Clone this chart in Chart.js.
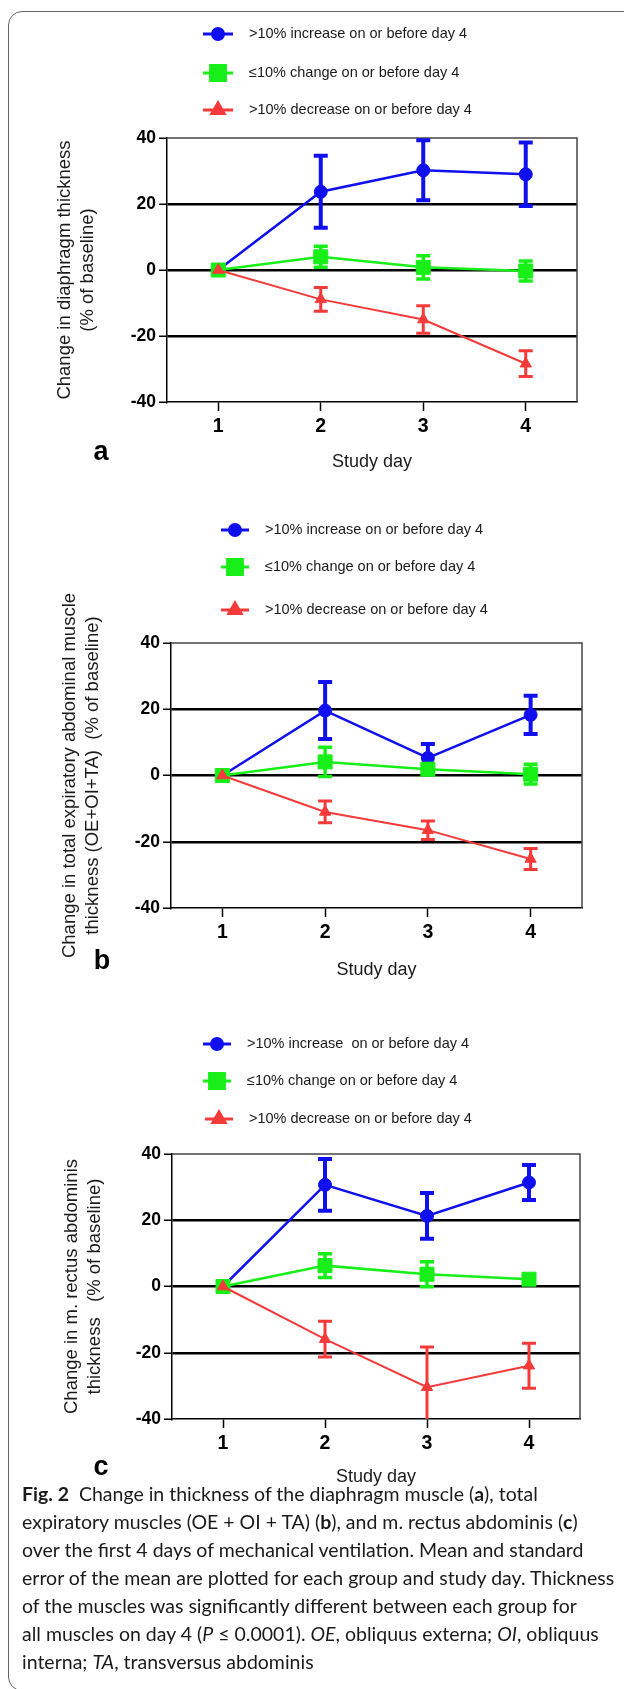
<!DOCTYPE html>
<html><head><meta charset="utf-8">
<script src="https://cdn.jsdelivr.net/npm/chart.js@4.4.0/dist/chart.umd.min.js"></script>
<style>
html,body{margin:0;padding:0;background:#fff;}
body{width:624px;height:1689px;position:relative;overflow:hidden;}
#frame{position:absolute;left:8px;top:11px;width:640px;height:1680px;border:1.5px solid #666;border-radius:14px;box-sizing:border-box;}
canvas{position:absolute;left:0;}
#caption{position:absolute;left:22px;top:1480px;font-family:Lato,"Open Sans",sans-serif;font-size:19.5px;line-height:28px;color:#1a1a1a;white-space:nowrap;}
</style></head>
<body>
<div id="frame"></div>
<canvas id="ca" width="624" height="480" style="top:0"></canvas>
<canvas id="cb" width="624" height="510" style="top:480px"></canvas>
<canvas id="cc" width="624" height="500" style="top:990px"></canvas>
<div id="caption"><b>Fig. 2</b>&nbsp; Change in thickness of the diaphragm muscle (<b>a</b>), total<br>expiratory muscles (OE + OI + TA) (<b>b</b>), and m. rectus abdominis (<b>c</b>)<br>over the first 4 days of mechanical ventilation. Mean and standard<br>error of the mean are plotted for each group and study day. Thickness<br>of the muscles was significantly different between each group for<br>all muscles on day 4 (<i>P</i> ≤ 0.0001). <i>OE</i>, obliquus externa; <i>OI</i>, obliquus<br>interna; <i>TA</i>, transversus abdominis</div>
<script>
// ---- data ----
const days = ['1', '2', '3', '4'];
const yTicks = [-40, -20, 0, 20, 40];
const groupLabels = ['>10% increase on or before day 4', '\u226410% change on or before day 4', '>10% decrease on or before day 4'];
const groupLabelsC = ['>10% increase  on or before day 4', '\u226410% change on or before day 4', '>10% decrease on or before day 4'];
const yTitleA = ['Change in diaphragm thickness', '(% of baseline)'];
const yTitleB = ['Change in total expiratory abdominal muscle', 'thickness (OE+OI+TA)  (% of baseline)'];
const yTitleC = ['Change in m. rectus abdominis', 'thickness   (% of baseline)'];
const xTitle = 'Study day';

// Panel a: diaphragm
const diaIncrease = [0, 23.7, 30.2, 29.0];
const diaIncreaseSem = [0, 10.9, 9.1, 9.6];
const diaStable = [0, 4.0, 0.8, -0.3];
const diaStableSem = [0, 3.2, 3.5, 3.0];
const diaDecrease = [0, -8.9, -15.0, -28.4];
const diaDecreaseSem = [0, 3.6, 4.2, 3.9];
// Panel b: total expiratory abdominal muscles
const expIncrease = [0, 19.6, 5.3, 18.3];
const expIncreaseSem = [0, 8.6, 4.2, 5.8];
const expStable = [0, 4.1, 1.9, 0.4];
const expStableSem = [0, 4.4, 1.5, 3.0];
const expDecrease = [0, -11.0, -16.5, -25.2];
const expDecreaseSem = [0, 3.3, 2.8, 3.2];
// Panel c: m. rectus abdominis
const raIncrease = [0, 30.7, 21.3, 31.4];
const raIncreaseSem = [0, 7.8, 6.9, 5.3];
const raStable = [0, 6.3, 3.7, 2.2];
const raStableSem = [0, 3.6, 3.8, 1.0];
const raDecrease = [0, -15.9, -30.4, -23.9];
const raDecreaseSem = [0, 5.4, 12.1, 6.8];

// ---- styles ----
const F = '"Liberation Sans", Arial, sans-serif';
const BLUE = '#1010ee', GREEN = '#18ee18', RED = '#f53a3a';
const styles = [
  {color: BLUE, pointStyle: 'circle', radius: 6.5, lineW: 2.5, errW: 4, order: 3, legendR: 5.5},
  {color: GREEN, pointStyle: 'rect', radius: 9.9, lineW: 2.5, errW: 3.5, order: 2, legendR: 10.5},
  {color: RED, pointStyle: 'triangle', radius: 6.5, lineW: 2, errW: 3, order: 1, legendR: 7}
];

const errorBars = {
  id: 'errorBars',
  afterDatasetDraw(chart, args) {
    const ds = chart.data.datasets[args.index];
    if (!ds.errors) return;
    const y = chart.scales.y, ctx = chart.ctx;
    ctx.save();
    Chart.helpers.clipArea(ctx, chart.chartArea);
    ctx.strokeStyle = ds.borderColor;
    ctx.lineWidth = ds.errorWidth;
    args.meta.data.forEach((pt, i) => {
      const e = ds.errors[i];
      if (!e) return;
      const v = ds.data[i];
      const yt = y.getPixelForValue(v + e), yb = y.getPixelForValue(v - e);
      const x = pt.x, hw = 7;
      ctx.beginPath();
      ctx.moveTo(x, yt); ctx.lineTo(x, yb);
      ctx.moveTo(x - hw, yt); ctx.lineTo(x + hw, yt);
      ctx.moveTo(x - hw, yb); ctx.lineTo(x + hw, yb);
      ctx.stroke();
    });
    Chart.helpers.unclipArea(ctx);
    ctx.restore();
  }
};

const frameLegend = {
  id: 'frameLegend',
  beforeDatasetsDraw(chart) {
    const {ctx, chartArea: a} = chart;
    ctx.save();
    ctx.strokeStyle = '#444'; ctx.lineWidth = 1.5;
    ctx.beginPath();
    ctx.moveTo(a.left, a.top); ctx.lineTo(a.right, a.top); ctx.lineTo(a.right, a.bottom);
    ctx.stroke();
    ctx.restore();
  },
  afterDraw(chart, args, o) {
    const ctx = chart.ctx;
    ctx.save();
    chart.data.datasets.forEach((ds, i) => {
      const r = o.rows[i];
      const st = styles[i];
      ctx.strokeStyle = st.color; ctx.fillStyle = st.color; ctx.lineWidth = 3;
      ctx.beginPath(); ctx.moveTo(r.x0, r.y); ctx.lineTo(r.x1, r.y); ctx.stroke();
      Chart.helpers.drawPoint(ctx, {pointStyle: st.pointStyle, radius: st.legendR, rotation: 0, borderWidth: 1}, (r.x0 + r.x1) / 2, r.y);
      ctx.fillStyle = '#1a1a1a';
      ctx.font = '14.5px ' + F;
      ctx.textBaseline = 'middle'; ctx.textAlign = 'left';
      ctx.fillText(ds.label, r.tx, r.y);
    });
    ctx.fillStyle = '#000';
    ctx.font = 'bold 27px ' + F;
    ctx.textAlign = 'center'; ctx.textBaseline = 'middle';
    ctx.fillText(o.letter, o.lx, o.ly);
    ctx.restore();
  }
};

function makeChart(id, labels, series, sems, yTitle, p) {
  const datasets = series.map((vals, i) => ({
    label: labels[i],
    data: vals,
    errors: sems[i],
    borderColor: styles[i].color,
    backgroundColor: styles[i].color,
    pointBackgroundColor: styles[i].color,
    pointBorderColor: styles[i].color,
    pointStyle: styles[i].pointStyle,
    pointRadius: styles[i].radius,
    pointBorderWidth: 1,
    borderWidth: styles[i].lineW,
    errorWidth: styles[i].errW,
    order: styles[i].order,
    tension: 0
  }));
  return new Chart(document.getElementById(id), {
    type: 'line',
    data: {labels: days, datasets},
    plugins: [errorBars, frameLegend],
    options: {
      responsive: false, animation: false, devicePixelRatio: 1,
      layout: {padding: {top: p.top, right: p.right, left: 0, bottom: 0}},
      plugins: {
        legend: {display: false}, tooltip: {enabled: false},
        frameLegend: {rows: p.rows, letter: p.letter, lx: p.lx, ly: p.ly}
      },
      scales: {
        x: {
          type: 'category', offset: true,
          grid: {drawOnChartArea: false, tickLength: 9, tickColor: '#000', tickWidth: 1.5},
          border: {color: '#000', width: 1.5},
          ticks: {font: {family: F, size: 19.5, weight: 'bold'}, color: '#000', padding: 4},
          title: {display: true, text: xTitle, font: {family: F, size: 18}, color: '#1a1a1a', padding: {top: 0, bottom: p.xtPad}},
          afterFit(s) { s.height = p.xH; }
        },
        y: {
          min: -40, max: 40,
          afterBuildTicks(s) { s.ticks = yTicks.map(v => ({value: v})); },
          grid: {
            color: c => (c.tick && [20, 0, -20].includes(c.tick.value)) ? '#000' : 'rgba(0,0,0,0)',
            lineWidth: 2.5, tickLength: 8, tickColor: '#000', tickWidth: 1.5
          },
          border: {color: '#000', width: 1.5},
          ticks: {font: {family: F, size: 17.5, weight: 'bold'}, color: '#000', padding: 3},
          title: {display: true, text: yTitle, font: {family: F, size: 18.5, lineHeight: 1.25}, color: '#1a1a1a', padding: {top: p.ytPad, bottom: 0}},
          afterFit(s) { s.width = p.yW; }
        }
      }
    }
  });
}

makeChart('ca', groupLabels,
  [diaIncrease, diaStable, diaDecrease], [diaIncreaseSem, diaStableSem, diaDecreaseSem], yTitleA,
  {top: 138, right: 47, yW: 167, xH: 78, xtPad: 7, ytPad: 53.5,
   rows: [{y: 34, x0: 203, x1: 233, tx: 249}, {y: 73, x0: 203, x1: 233, tx: 249}, {y: 110, x0: 203, x1: 233, tx: 249}],
   letter: 'a', lx: 101, ly: 453});

makeChart('cb', groupLabels,
  [expIncrease, expStable, expDecrease], [expIncreaseSem, expStableSem, expDecreaseSem], yTitleB,
  {top: 163, right: 42, yW: 171, xH: 82, xtPad: 9, ytPad: 58.5,
   rows: [{y: 50, x0: 221, x1: 249, tx: 265}, {y: 87, x0: 221, x1: 249, tx: 265}, {y: 130, x0: 221, x1: 249, tx: 265}],
   letter: 'b', lx: 102, ly: 482});

makeChart('cc', groupLabelsC,
  [raIncrease, raStable, raDecrease], [raIncreaseSem, raStableSem, raDecreaseSem], yTitleC,
  {top: 164, right: 44, yW: 172, xH: 71, xtPad: 2, ytPad: 60.5,
   rows: [{y: 54, x0: 203, x1: 231, tx: 247}, {y: 91, x0: 203, x1: 231, tx: 247}, {y: 129, x0: 205, x1: 233, tx: 249}],
   letter: 'c', lx: 101, ly: 478});
</script>
</body></html>
